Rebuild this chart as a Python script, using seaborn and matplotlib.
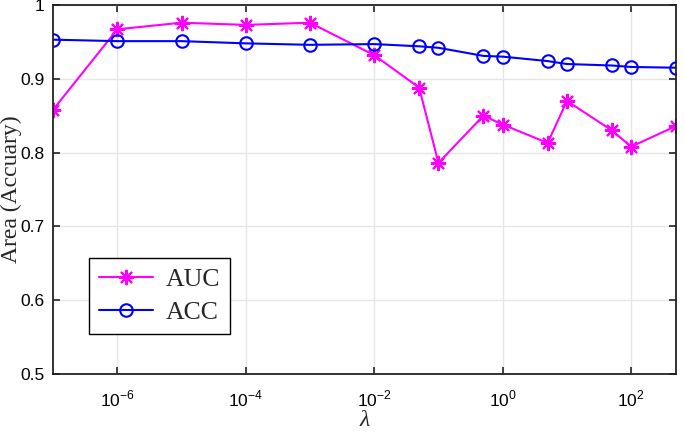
import numpy as np
import pandas as pd
import seaborn as sns
import matplotlib
matplotlib.use('Agg')
import matplotlib.pyplot as plt

# lambda values and scores
lam = [1e-7, 1e-6, 1e-5, 1e-4, 1e-3, 1e-2, 5e-2, 1e-1, 5e-1, 1, 5, 10, 50, 100, 500]
auc = [0.858, 0.967, 0.976, 0.973, 0.976, 0.932, 0.888, 0.786, 0.850, 0.838,
       0.813, 0.870, 0.830, 0.808, 0.836]
acc = [0.953, 0.951, 0.951, 0.948, 0.946, 0.947, 0.944, 0.942, 0.931, 0.930,
       0.924, 0.920, 0.918, 0.916, 0.915]
xticks = [1e-6, 1e-4, 1e-2, 1e0, 1e2]
xticklabels = ['$10^{-6}$', '$10^{-4}$', '$10^{-2}$', '$10^{0}$', '$10^{2}$']
yticks = [0.5, 0.6, 0.7, 0.8, 0.9, 1.0]
yticklabels = ['0.5', '0.6', '0.7', '0.8', '0.9', '1']

df = pd.DataFrame({'lam': lam, 'AUC': auc, 'ACC': acc})

sns.set_style('white')
plt.rcParams['font.family'] = ['Liberation Sans', 'DejaVu Sans']
plt.rcParams['mathtext.fontset'] = 'custom'
plt.rcParams['mathtext.rm'] = 'Liberation Sans'

fig = plt.figure(figsize=(6.85, 4.33), dpi=100)
ax = fig.add_axes([0.0774, 0.1363, 0.9096, 0.8522])

sns.lineplot(data=df, x='lam', y='AUC', ax=ax, color='#ff00ff', lw=1.5,
             marker=(8, 2, 0), markersize=11, markeredgewidth=1.5,
             markeredgecolor='#ff00ff', label='AUC')
sns.lineplot(data=df, x='lam', y='ACC', ax=ax, color='#0000ff', lw=1.5,
             marker='o', markersize=9, markerfacecolor='none',
             markeredgewidth=1.5, markeredgecolor='#0000ff', label='ACC')

ax.set_xscale('log')
ax.set_xlim(1e-7, 500)
ax.set_ylim(0.5, 1.0)
ax.set_xticks(xticks)
ax.set_xticklabels(xticklabels)
ax.xaxis.set_minor_locator(matplotlib.ticker.NullLocator())
ax.set_yticks(yticks)
ax.set_yticklabels(yticklabels)
ax.tick_params(axis='both', labelsize=12.5, direction='in', length=5, width=1.2,
               top=True, right=True, bottom=True, left=True,
               colors='#222222', labelcolor='black')
ax.tick_params(axis='x', pad=11)
ax.tick_params(axis='y', pad=6)
ax.grid(True, color='#e6e6e6', lw=1)
for s in ax.spines.values():
    s.set_color('#222222')
    s.set_linewidth(1.3)

ax.set_xlabel('λ', fontsize=17, family=['Liberation Serif'], style='italic', labelpad=0)
ax.set_ylabel('Area (Accuary)', fontsize=17, family=['Liberation Serif'])
ax.yaxis.set_label_coords(-0.049, 0.5)

leg = ax.legend(loc='lower left', bbox_to_anchor=(0.058, 0.108), frameon=True,
                fancybox=False, edgecolor='black', framealpha=1,
                prop={'family': 'Liberation Serif', 'size': 18.5},
                handlelength=2.1, borderpad=0.38, labelspacing=0.4,
                handletextpad=0.5, borderaxespad=0)
leg.get_frame().set_linewidth(1.0)

fig.savefig('out.png', dpi=100)
